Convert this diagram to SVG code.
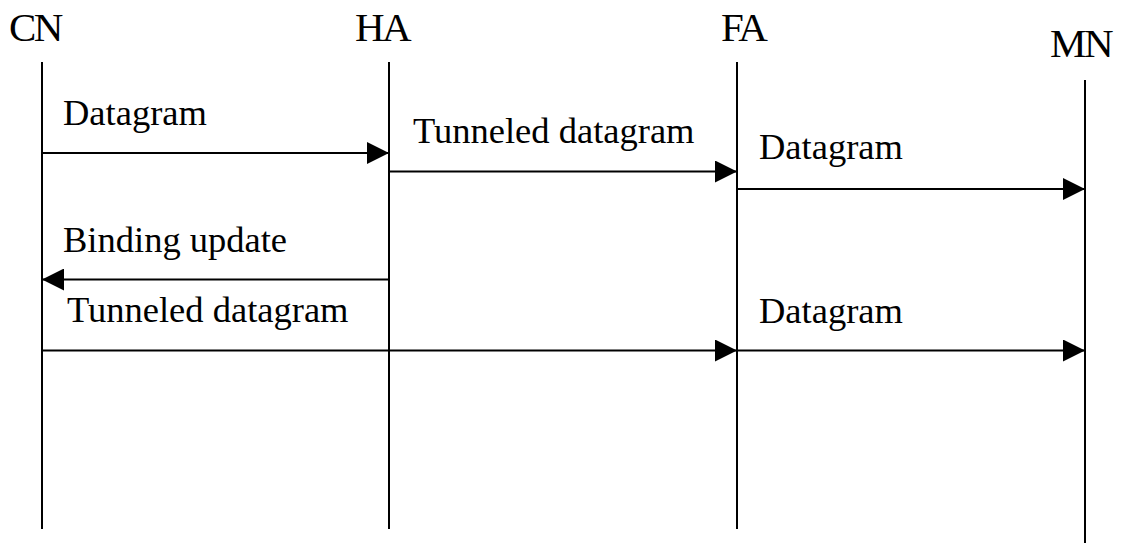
<svg xmlns="http://www.w3.org/2000/svg" width="1127" height="543" viewBox="0 0 1127 543">
  <defs>
    <style>
      .lifeline { stroke: #000; stroke-width: 2; fill: none; }
      .msg { stroke: #000; stroke-width: 2; fill: none; }
      .head { font-family: "Liberation Serif", "Times New Roman", serif; font-size: 41px; fill: #000; letter-spacing: -2.5px; }
      .label { font-family: "Liberation Serif", "Times New Roman", serif; font-size: 36.5px; fill: #000; }
    </style>
    <marker id="arrow" viewBox="0 0 22 22" refX="22" refY="11" markerWidth="22" markerHeight="22" markerUnits="userSpaceOnUse" orient="auto">
      <path d="M0,0 L22,11 L0,22 Z" fill="#000"/>
    </marker>
  </defs>

  <rect width="1127" height="543" fill="#fff"/>

  <!-- participants with their lifelines -->
  <g id="cn">
    <text class="head" x="9" y="41">CN</text>
    <line class="lifeline" x1="42" y1="62" x2="42" y2="529"/>
  </g>
  <g id="ha">
    <text class="head" x="355" y="41">HA</text>
    <line class="lifeline" x1="389" y1="62" x2="389" y2="529"/>
  </g>
  <g id="fa">
    <text class="head" x="721" y="41">FA</text>
    <line class="lifeline" x1="737" y1="62" x2="737" y2="529"/>
  </g>
  <g id="mn">
    <text class="head" x="1050" y="57">MN</text>
    <line class="lifeline" x1="1085" y1="80" x2="1085" y2="543"/>
  </g>

  <!-- messages -->
  <g id="connectors">
    <line class="msg" x1="42" y1="153" x2="389" y2="153" marker-end="url(#arrow)"/>
    <line class="msg" x1="389" y1="171.5" x2="737" y2="171.5" marker-end="url(#arrow)"/>
    <line class="msg" x1="737" y1="189" x2="1085" y2="189" marker-end="url(#arrow)"/>
    <line class="msg" x1="389" y1="279.5" x2="42" y2="279.5" marker-end="url(#arrow)"/>
    <line class="msg" x1="42" y1="350.5" x2="737" y2="350.5" marker-end="url(#arrow)"/>
    <line class="msg" x1="737" y1="350.5" x2="1085" y2="350.5" marker-end="url(#arrow)"/>
  </g>

  <!-- message labels -->
  <g id="labels">
    <text class="label" x="63" y="125">Datagram</text>
    <text class="label" x="413" y="143">Tunneled datagram</text>
    <text class="label" x="759" y="159">Datagram</text>
    <text class="label" x="63" y="252">Binding update</text>
    <text class="label" x="67" y="322">Tunneled datagram</text>
    <text class="label" x="759" y="323">Datagram</text>
  </g>
</svg>
